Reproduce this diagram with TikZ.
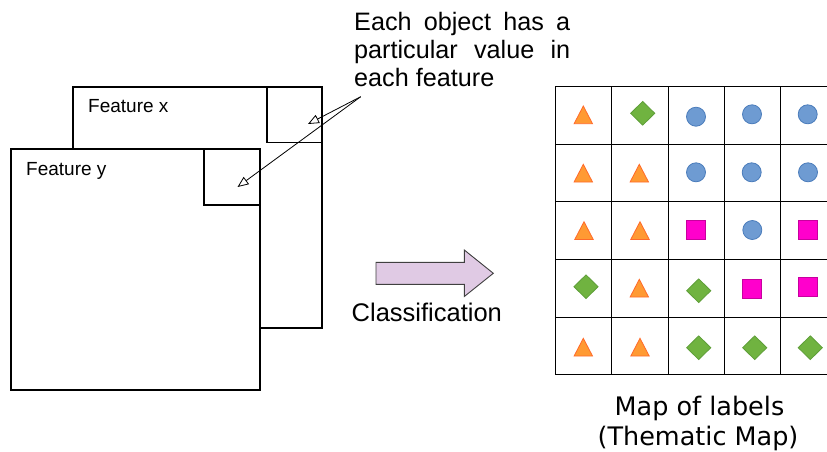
\documentclass[tikz,border=0pt]{standalone}
\usepackage{fontspec}
\setmainfont{Liberation Sans}
\newfontfamily\dejavu{DejaVu Sans}
\usetikzlibrary{arrows.meta,shapes.geometric}
\definecolor{triF}{HTML}{FF9A33}
\definecolor{triD}{HTML}{FF6A2A}
\definecolor{diaF}{HTML}{70B340}
\definecolor{diaD}{HTML}{5E9E38}
\definecolor{cirF}{HTML}{6E9BD2}
\definecolor{cirD}{HTML}{4A7CBB}
\definecolor{sqF}{HTML}{FF00CC}
\definecolor{sqD}{HTML}{C8009E}
\definecolor{arrF}{HTML}{E0CAE4}
\begin{document}
\begin{tikzpicture}[x=1pt,y=-1pt,
  featbox/.style={draw=black,fill=white,line width=1.8pt,inner sep=0pt,minimum width=249pt,minimum height=241pt},
  smallbox/.style={draw=black,line width=1.8pt,inner sep=0pt,minimum width=55.5pt,minimum height=55.5pt},
  gridline/.style={draw=black,line width=1.3pt,line cap=rect},
  lbl/.style={inner sep=0pt,anchor=base west,font=\fontsize{19}{22}\selectfont},
  note/.style={inner sep=0pt,anchor=base west,font=\fontsize{25.2}{28}\selectfont},
  callout/.style={line width=0.8pt,-{Triangle[open,length=11pt,width=9pt]}},
  cir/.style={circle,fill=cirF,draw=cirD,line width=0.8pt,inner sep=0pt,minimum size=19pt},
  sqr/.style={rectangle,fill=sqF,draw=sqD,line width=0.8pt,inner sep=0pt,minimum size=19pt},
  dia/.style={diamond,fill=diaF,draw=diaD,line width=0.8pt,inner sep=0pt,minimum width=24.5pt,minimum height=24pt},
  tri/.pic={\draw[fill=triF,draw=triD,line width=0.8pt,line join=miter] (0,-9) -- (9.2,8.7) -- (-9.2,8.7) -- cycle;}
]
\useasboundingbox (0,0) rectangle (827,451);
\fill[white] (0,0) rectangle (827,451);

% feature boxes
\node[featbox] (fx) at (197.4,207.8) {};
\node[smallbox] (sx) at (294.4,114.8) {};
\node[lbl] (fxl) at (88,112.7) {Feature x};
\node[featbox] (fy) at (135.2,269.5) {};
\node[smallbox] (sy) at (232,176.9) {};
\node[lbl] (fyl) at (26,175) {Feature y};

% note text
\node[note] (n1) at (354,30) {\makebox[216pt][s]{Each object has a}};
\node[note] (n2) at (354,58) {\makebox[216pt][s]{particular value in}};
\node[note] (n3) at (354,86) {each feature};

\coordinate (src) at (360.7,96.7);
\coordinate (tx) at (308,124);
\coordinate (ty) at (237.5,187);
\draw[callout] (src) -- (tx);
\draw[callout] (src) -- (ty);

% block arrow
\draw[fill=arrF,draw=black!75,line width=0.9pt,line join=miter]
  (376,262.3) -- (464.3,262.3) -- (464.3,250) -- (493.3,273.3) -- (464.3,296.5) -- (464.3,284.3) -- (376,284.3) -- cycle;
\node[inner sep=0pt,anchor=base west,font=\fontsize{25.5}{28}\selectfont] (cls) at (351.5,321.7) {Classification};

% grid
\foreach \yy in {86.5,144.5,201.5,259.5,317.5,374.5}{
  \draw[gridline] (555.5,\yy) -- (840,\yy);
}
\foreach \xx in {555.5,611.5,668.5,724.5,780.5,836.5}{
  \draw[gridline] (\xx,86.5) -- (\xx,374.5);
}

% row 1
\pic at (583.3,115) {tri};
\node[dia] (s12) at (642.7,113.3) {};
\node[cir] (s13) at (696,116.7) {};
\node[cir] (s14) at (752,114.3) {};
\node[cir] (s15) at (807.7,114.3) {};
% row 2
\pic at (583.3,173.3) {tri};
\pic at (639.3,173.3) {tri};
\node[cir] (s23) at (696,172.3) {};
\node[cir] (s24) at (751.7,172.3) {};
\node[cir] (s25) at (808,172.3) {};
% row 3
\pic at (584,230.7) {tri};
\pic at (640,230.7) {tri};
\node[sqr] (s33) at (696,230) {};
\node[cir] (s34) at (752.3,230) {};
\node[sqr] (s35) at (807.7,230) {};
% row 4
\node[dia] (s41) at (586,286.7) {};
\pic at (639.3,288.3) {tri};
\node[dia] (s43) at (698.7,290.7) {};
\node[sqr] (s44) at (751.7,289.3) {};
\node[sqr] (s45) at (807.7,287.3) {};
% row 5
\pic at (583.3,347.3) {tri};
\pic at (640,347.3) {tri};
\node[dia] (s53) at (698.7,347.7) {};
\node[dia] (s54) at (754.7,347.7) {};
\node[dia] (s55) at (810.3,347.7) {};

% caption
\node[inner sep=0pt,anchor=base,font=\dejavu\fontsize{25.5}{30}\selectfont] (m1) at (699.5,415) {Map of labels};
\node[inner sep=0pt,anchor=base,font=\dejavu\fontsize{25.5}{30}\selectfont] (m2) at (698,445) {(Thematic Map)};
\end{tikzpicture}
\end{document}
